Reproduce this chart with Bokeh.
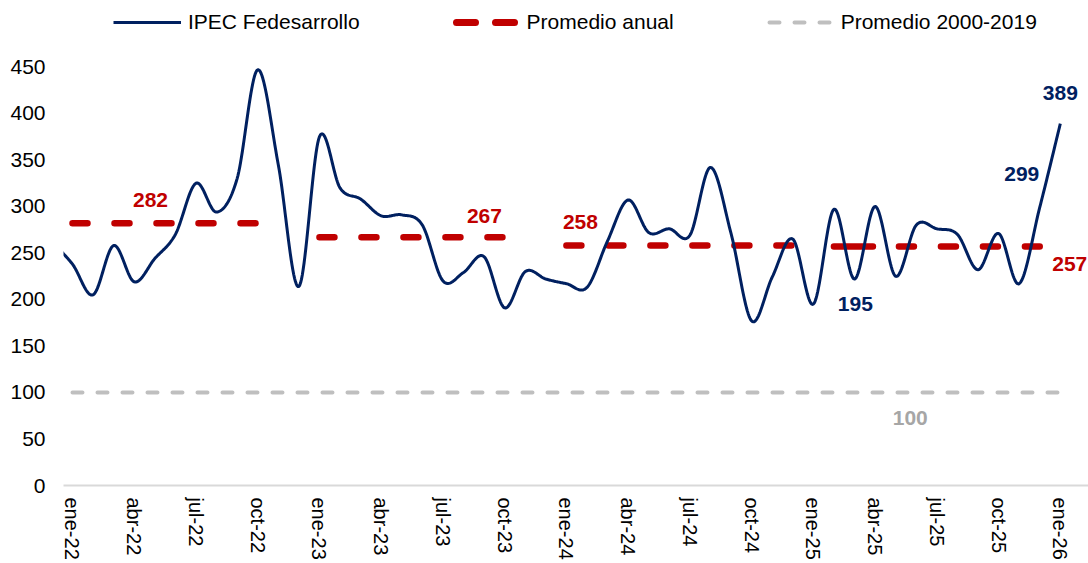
import numpy as np
from bokeh.plotting import figure
from bokeh.models import Range1d, FixedTicker, Legend, LegendItem
from bokeh.core.properties import value
from bokeh.embed import file_html
from bokeh.resources import INLINE

# ---------------- data ----------------
MESES = ["ene", "feb", "mar", "abr", "may", "jun", "jul", "ago", "sep", "oct", "nov", "dic"]
months = ["dic-21"] + [f"{m}-{y}" for y in (22, 23, 24, 25) for m in MESES] + ["ene-26"]

ipec = [262,
        238, 205, 258, 219, 244, 270, 325, 294, 330, 447, 345, 214,   # 2022
        375, 320, 308, 290, 291, 280, 220, 229, 246, 191, 230, 222,   # 2023
        217, 213, 263, 307, 272, 276, 269, 342, 271, 177, 224, 265,   # 2024
        195, 297, 222, 300, 225, 280, 276, 270, 232, 271, 217, 299,   # 2025
        389]                                                          # 2026

avg_value = [282, 267, 258, 257]
avg_start = ["ene-22", "ene-23", "ene-24", "feb-25"]
avg_end = ["nov-22", "nov-23", "dic-24", "dic-25"]

hist_avg = 100
hist_start, hist_end = "ene-22", "ene-26"

tick_months = ["ene-22", "abr-22", "jul-22", "oct-22", "ene-23", "abr-23", "jul-23", "oct-23",
               "ene-24", "abr-24", "jul-24", "oct-24", "ene-25", "abr-25", "jul-25", "oct-25", "ene-26"]

point_label_months = ["ene-25", "dic-25", "ene-26"]

# ---------------- helpers ----------------
idx = {m: i - 1 for i, m in enumerate(months)}   # ene-22 -> 0
xs = [idx[m] for m in months]


def smooth(x, y, n=24):
    x = np.asarray(x, float)
    y = np.asarray(y, float)
    px = np.concatenate([[x[0]], x, [x[-1]]])
    py = np.concatenate([[y[0]], y, [y[-1]]])
    t = np.linspace(0, 1, n, endpoint=False)
    ox, oy = [], []
    for k in range(1, len(px) - 2):
        for P, out in ((px, ox), (py, oy)):
            p0, p1, p2, p3 = P[k - 1], P[k], P[k + 1], P[k + 2]
            c1 = p1 + (p2 - p0) / 6.0
            c2 = p2 - (p3 - p1) / 6.0
            b = ((1 - t) ** 3) * p1 + 3 * ((1 - t) ** 2) * t * c1 + 3 * (1 - t) * t ** 2 * c2 + t ** 3 * p2
            out.extend(b.tolist())
    ox.append(x[-1])
    oy.append(y[-1])
    return ox, oy


BLUE = "#002060"
RED = "#C00000"
GRAY = "#BFBFBF"
GRAY_TXT = "#A6A6A6"
FONT = "Liberation Sans"

p = figure(frame_width=1025, frame_height=477, output_backend="svg", toolbar_location=None,
           x_range=Range1d(-0.437, 49.37), y_range=Range1d(0, 512.9),
           min_border_left=63, min_border_right=0, min_border_top=8, min_border_bottom=70)
p.outline_line_color = None
p.xgrid.visible = False
p.ygrid.visible = False
p.background_fill_color = "white"
p.border_fill_color = "white"

# axes
p.yaxis.ticker = FixedTicker(ticks=list(range(0, 451, 50)))
p.yaxis.axis_line_color = None
p.yaxis.major_tick_line_color = None
p.yaxis.minor_tick_line_color = None
p.yaxis.major_label_standoff = 12
p.yaxis.major_label_text_font = FONT
p.yaxis.major_label_text_font_size = "21px"
p.yaxis.major_label_text_color = "black"

p.xaxis.ticker = FixedTicker(ticks=[idx[m] for m in tick_months])
p.xaxis.major_label_overrides = {idx[m]: m for m in tick_months}
p.xaxis.major_label_orientation = "vertical"
p.xaxis.axis_line_color = "#D9D9D9"
p.xaxis.axis_line_width = 2
p.xaxis.major_tick_line_color = None
p.xaxis.minor_tick_line_color = None
p.xaxis.major_label_standoff = 6
p.xaxis.major_label_text_font = FONT
p.xaxis.major_label_text_font_size = "20px"
p.xaxis.major_label_text_color = "black"

# historical average line
p.line([idx[hist_start], idx[hist_end]], [hist_avg, hist_avg], line_color=GRAY,
       line_width=4, line_dash="10 15", line_cap="round")

# annual averages
dashes = ["15 27", "15 27", "15 27", "39 26 15 27 15 27 15 27 15 27 15 27"]
for v, s, e, d in zip(avg_value, avg_start, avg_end, dashes):
    p.line([idx[s], idx[e]], [v, v], line_color=RED, line_width=6.5, line_dash=d, line_cap="round")

# main series
sx, sy = smooth(xs, ipec)
r_ipec = p.line(sx, sy, line_color=BLUE, line_width=3, line_join="round")

# legend-only renderers (no visible data)
nan2 = [np.nan, np.nan]
leg_red = p.line(nan2, nan2, line_color=RED, line_width=7, line_dash="19 20",
                 line_dash_offset=35, line_cap="round")
leg_gray = p.line(nan2, nan2, line_color=GRAY, line_width=4, line_dash="10 15",
                  line_dash_offset=22, line_cap="round")

legend = Legend(items=[LegendItem(label="IPEC Fedesarrollo", renderers=[r_ipec]),
                       LegendItem(label="Promedio anual", renderers=[leg_red]),
                       LegendItem(label="Promedio 2000-2019", renderers=[leg_gray])],
                orientation="horizontal", location=(50, 451), glyph_width=68, glyph_height=20,
                label_standoff=7, spacing=92, padding=0, margin=0, border_line_color=None,
                background_fill_alpha=0, label_text_font=FONT, label_text_font_size="21px",
                label_text_color="black")
p.add_layout(legend)

# annual average labels (anchored at each segment)
avg_anchor_x = [idx[avg_start[0]], idx[avg_start[1]], idx[avg_start[2]], idx[avg_end[3]]]
p.text(x=avg_anchor_x, y=avg_value, text=[str(v) for v in avg_value],
       x_offset=[78, 165, 14, 30], y_offset=[-23, -21, -24, 18],
       text_align="center", text_baseline="middle", text_font=value(FONT),
       text_font_style="bold", text_font_size="21px", text_color=RED)

# point labels
pl_x = [idx[m] for m in point_label_months]
pl_y = [ipec[idx[m] + 1] for m in point_label_months]
p.text(x=pl_x, y=pl_y, text=[str(v) for v in pl_y],
       x_offset=[42, -18, 0], y_offset=[0, -33, -31],
       text_align="center", text_baseline="middle", text_font=value(FONT),
       text_font_style="bold", text_font_size="21px", text_color=BLUE)

# historical average label
p.text(x=[idx["jun-25"]], y=[hist_avg], text=[str(hist_avg)], x_offset=-6, y_offset=26,
       text_align="center", text_baseline="middle", text_font=value(FONT),
       text_font_style="bold", text_font_size="21px", text_color=GRAY_TXT)

open("out.html", "w").write(file_html(p, INLINE))
